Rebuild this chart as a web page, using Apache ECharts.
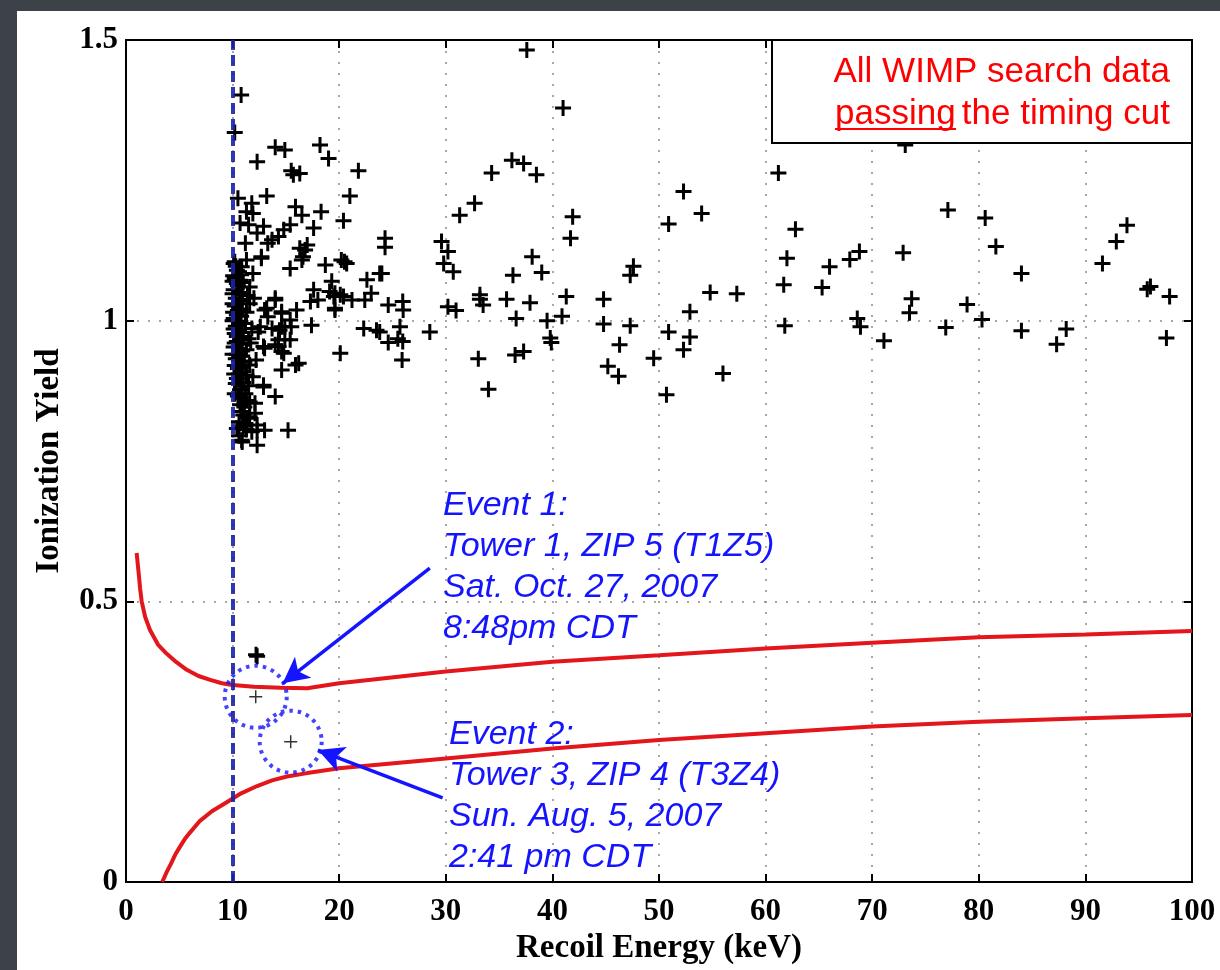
<!DOCTYPE html>
<html>
<head>
<meta charset="utf-8">
<script src="https://cdn.jsdelivr.net/npm/echarts@6/dist/echarts.min.js"></script>
<style>
  html, body { margin: 0; padding: 0; background: #3c4247; }
  #panel { position: absolute; left: 17px; top: 11px; width: 1203px; height: 959px; background: #ffffff; }
  #chart { position: absolute; left: 0; top: 0; width: 1220px; height: 970px; }
</style>
</head>
<body>
<div id="panel"></div>
<div id="chart"></div>
<script>
// Recoil energy (keV) / ionization yield pairs for events passing the timing cut
const thresholdCluster = [
  [10.1,1.102],[10.4,1.090],[10.8,1.082],[10.2,1.075],[11.0,1.068],[10.5,1.062],[10.1,1.055],[10.9,1.050],
  [11.4,1.045],[10.3,1.040],[10.7,1.035],[11.6,1.030],[10.2,1.026],[10.9,1.021],[11.3,1.015],[10.4,1.010],
  [10.1,1.004],[10.7,0.999],[11.2,0.995],[10.3,0.990],[11.8,0.986],[10.6,0.982],[10.2,0.977],[11.0,0.972],
  [11.5,0.968],[10.4,0.963],[10.8,0.958],[10.1,0.953],[11.3,0.948],[10.6,0.943],[10.9,0.937],[10.3,0.932],
  [11.1,0.926],[11.6,0.921],[10.5,0.915],[10.8,0.909],[11.3,0.903],[10.4,0.897],[11.0,0.890],[11.5,0.884],
  [10.7,0.877],[11.2,0.870],[10.9,0.862],[11.6,0.855],[11.1,0.846],[10.8,0.838],[11.4,0.826],[11.0,0.812],
  [10.6,0.795],[10.0,1.048],[10.05,1.015],[10.1,0.985],[10.0,0.940],[10.15,0.905],[10.05,1.080],[10.2,0.870],
  [10.0,1.000],[11.9,1.084],[11.6,1.060],[12.0,1.040],[11.7,0.960],[12.2,0.930],[11.9,0.900],[12.7,1.111],
  [11.3,1.108],[10.85,1.096],[10.2,1.105],[12.9,0.885],[12.1,0.853],[11.6,0.829],[12.1,0.835],[11.2,0.817],
  [12.3,0.814],[11.8,0.802],[13.0,0.805],[10.85,0.787],[12.3,0.778],[10.9,0.784],[12.3,0.805],[12.9,0.882],
  [10.3,1.097],[10.6,1.087],[10.0,1.070],[10.7,1.072],[10.4,1.066],[10.0,1.030],[10.6,1.046],[10.9,1.038],
  [10.5,1.018],[10.8,1.008],[10.6,0.994],[10.9,0.979],[10.4,0.972],[10.7,0.966],[10.2,0.960],[10.6,0.951],
  [10.9,0.946],[10.4,0.940],[10.7,0.928],[10.2,0.920],[10.9,0.917],[10.6,0.905],[10.3,0.888],[10.8,0.883],
  [10.5,0.866],[11.3,0.858],[10.7,0.850],[11.0,0.832],[10.6,0.820],[11.3,0.806],[10.4,0.808]
];

const lowEnergyScatter = [
  [10.8,1.402],[10.2,1.335],[14.0,1.309],[14.9,1.304],[18.2,1.313],[19.0,1.289],[12.3,1.283],[15.5,1.267],
  [16.3,1.262],[15.7,1.260],[21.8,1.267],[21.0,1.222],[13.2,1.222],[20.4,1.178],[18.3,1.194],[15.9,1.203],
  [16.5,1.188],[17.6,1.165],[10.5,1.218],[11.8,1.209],[11.3,1.194],[11.9,1.191],[10.7,1.174],[11.5,1.171],
  [12.9,1.168],[12.3,1.156],[15.4,1.171],[14.8,1.162],[14.3,1.150],[13.7,1.144],[13.3,1.138],[11.2,1.138],
  [17.0,1.135],[16.3,1.129],[16.6,1.114],[12.7,1.114],[15.4,1.093],[16.5,1.108],[16.8,1.126],[18.7,1.099],
  [20.2,1.108],[20.7,1.102],[20.5,1.105],[22.6,1.073],[23.8,1.084],[19.3,1.070],[19.1,1.052],[17.6,1.055],
  [17.3,1.034],[18.0,1.037],[19.6,1.049],[20.1,1.046],[21.2,1.037],[22.4,1.037],[23.0,1.049],[19.5,1.043],
  [19.6,1.019],[19.6,1.022],[20.4,1.043],[22.3,0.986],[23.5,0.983],[20.1,0.942],[17.4,0.992],[16.0,1.019],
  [15.4,1.001],[14.6,1.013],[14.0,1.037],[13.0,1.019],[13.3,1.007],[12.6,0.989],[13.7,0.986],[14.6,0.989],
  [15.5,0.989],[14.9,0.989],[14.4,0.983],[12.4,0.980],[14.3,0.966],[14.9,0.966],[15.4,0.966],[12.9,0.954],
  [14.3,0.954],[14.8,0.942],[14.0,0.957],[13.0,0.951],[14.6,0.945],[14.6,0.912],[15.9,0.921],[16.2,0.924],
  [14.0,0.865],[15.2,0.805],[14.6,1.016],[13.2,1.022],[14.0,1.040]
];

const highEnergyScatter = [
  [24.3,1.147],[24.3,1.131],[24.0,1.084],[24.6,1.028],[25.96,1.034],[26.0,1.019],[25.7,0.989],[24.6,0.961],
  [25.96,0.963],[25.5,0.968],[25.9,0.930],[23.8,0.980],[28.5,0.980],[29.6,1.141],[30.2,1.123],[29.8,1.102],
  [30.7,1.087],[30.2,1.025],[30.96,1.018],[31.3,1.188],[32.7,1.209],[34.3,1.263],[36.2,1.286],[37.3,1.280],
  [38.5,1.260],[33.2,1.046],[33.2,1.038],[33.5,1.028],[33.05,0.932],[34.0,0.878],[35.7,1.038],[36.3,1.081],
  [36.6,1.004],[36.5,0.939],[37.3,0.945],[37.9,1.032],[38.1,1.114],[39.0,1.086],[39.5,1.000],[40.9,1.008],
  [39.8,0.969],[39.9,0.961],[41.3,1.043],[41.9,1.185],[41.7,1.147],[44.8,1.038],[44.8,0.994],[47.3,0.991],
  [46.3,0.957],[45.2,0.919],[46.2,0.901],[47.6,1.097],[47.3,1.081],[49.5,0.933],[50.7,0.868],[50.9,0.980],
  [52.9,1.016],[52.9,0.971],[52.3,0.948],[50.9,1.172],[52.3,1.230],[54.0,1.191],[54.8,1.050],[57.3,1.048],
  [56.0,0.906],[61.2,1.263],[62.8,1.163],[62.0,1.111],[61.7,1.064],[61.8,0.991],[65.3,1.059],[66.0,1.096],
  [67.9,1.109],[68.8,1.123],[68.6,1.004],[68.9,0.989],[71.1,0.964],[72.9,1.121],[73.7,1.039],[73.5,1.014],
  [77.1,1.197],[76.9,0.988],[78.9,1.029],[80.3,1.002],[80.6,1.183],[81.6,1.132],[84.0,1.084],[84.0,0.982],
  [87.3,0.958],[88.2,0.985],[91.6,1.102],[92.9,1.141],[93.9,1.170],[95.8,1.056],[96.1,1.061],[97.9,1.043],
  [97.6,0.969],[37.6,1.482],[41.0,1.379],[73.1,1.313],[12.2,0.405],[12.3,0.402]
];

// The two candidate events inside the signal region
const candidateEvents = [[12.17,0.330],[15.45,0.250]];

// Nuclear-recoil acceptance band edges
const upperBandE = [1.0,1.1,1.2,1.33,1.47,1.8,2.25,3.0,3.8,4.7,5.7,6.8,7.9,9.0,10,12,14.5,17,20,30,40,50,60,70,80,90,100];
const upperBandY = [0.586,0.567,0.548,0.522,0.500,0.472,0.449,0.423,0.407,0.392,0.378,0.367,0.360,0.354,0.351,0.348,0.346,0.345,0.354,0.375,0.3925,0.404,0.416,0.426,0.436,0.441,0.447];
const lowerBandE = [3.4,3.8,4.2,4.6,5.07,5.5,6.0,6.94,8.06,9.45,10.8,12.3,13.7,15.1,17,20,30,40,50,60,70,80,90,100];
const lowerBandY = [0.0,0.017,0.032,0.048,0.063,0.076,0.088,0.109,0.126,0.142,0.158,0.171,0.181,0.188,0.194,0.2026,0.220,0.238,0.253,0.265,0.277,0.2856,0.2916,0.2975];

const thresholdEnergy = 10;
const xTicks = { min: 0, max: 100, interval: 10 };
const yTicks = { min: 0, max: 1.5, interval: 0.5 };

const eventArrows = [
  [[28.5,0.559],[14.7,0.354]],
  [[29.7,0.150],[18.0,0.235]]
];

const plusPath = 'path://M6.5,0H9.5V6.5H16V9.5H9.5V16H6.5V9.5H0V6.5H6.5Z';
const thinPlusPath = 'path://M7.1,0H8.9V7.1H16V8.9H8.9V16H7.1V8.9H0V7.1H7.1Z';

const serifBold = { fontFamily: 'Liberation Serif', fontWeight: 'bold', color: '#000', fontSize: 31 };
const blue = '#1414ff';
const red = '#e3161b';

const chart = echarts.init(document.getElementById('chart'), null, { renderer: 'canvas' });

const axisCommon = {
  axisLine: { show: true, onZero: false, lineStyle: { color: '#000', width: 2 } },
  axisTick: { show: true, inside: true, length: 8, lineStyle: { color: '#000', width: 2 } },
  splitLine: { show: false },
  minorTick: { show: false }
};

chart.setOption({
  animation: false,
  backgroundColor: 'transparent',
  grid: { left: 126, top: 40, right: 28, bottom: 88, show: false },
  xAxis: [
    Object.assign({}, axisCommon, {
      type: 'value', position: 'bottom', min: xTicks.min, max: xTicks.max, interval: xTicks.interval,
      name: 'Recoil Energy (keV)', nameLocation: 'middle', nameGap: 47,
      nameTextStyle: Object.assign({}, serifBold, { fontSize: 33 }),
      axisLabel: Object.assign({}, serifBold, { margin: 14 }),
      splitLine: { show: true, lineStyle: { color: '#8a8a8a', width: 1.5, type: [2, 9] } }
    }),
    Object.assign({}, axisCommon, {
      type: 'value', position: 'top', min: xTicks.min, max: xTicks.max, interval: xTicks.interval,
      axisLabel: { show: false }
    })
  ],
  yAxis: [
    Object.assign({}, axisCommon, {
      type: 'value', position: 'left', min: yTicks.min, max: yTicks.max, interval: yTicks.interval,
      name: 'Ionization Yield', nameLocation: 'middle', nameGap: 60,
      nameTextStyle: Object.assign({}, serifBold, { fontSize: 33 }),
      axisLabel: Object.assign({}, serifBold, { margin: 8 }),
      splitLine: { show: true, lineStyle: { color: '#8a8a8a', width: 1.5, type: [2, 9] } }
    }),
    Object.assign({}, axisCommon, {
      type: 'value', position: 'right', min: yTicks.min, max: yTicks.max, interval: yTicks.interval,
      axisLabel: { show: false }
    })
  ],
  series: [
    {
      name: 'upper band', type: 'line', showSymbol: false, smooth: false,
      lineStyle: { color: red, width: 4 },
      data: upperBandE.map((e, i) => [e, upperBandY[i]])
    },
    {
      name: 'lower band', type: 'line', showSymbol: false, smooth: false,
      lineStyle: { color: red, width: 4 },
      data: lowerBandE.map((e, i) => [e, lowerBandY[i]])
    },
    {
      name: 'WIMP search data', type: 'scatter', symbol: plusPath, symbolSize: 16,
      itemStyle: { color: '#000', opacity: 1 },
      data: thresholdCluster.concat(lowEnergyScatter, highEnergyScatter)
    },
    {
      name: 'candidates', type: 'scatter', symbol: thinPlusPath, symbolSize: 13,
      itemStyle: { color: '#000' },
      data: candidateEvents
    },
    {
      name: 'threshold', type: 'line', data: [], silent: true, z: 10,
      markLine: {
        silent: true, symbol: ['none', 'none'], label: { show: false },
        lineStyle: { color: '#1e22a6', width: 4, type: [11, 5], opacity: 0.9 },
        data: [{ xAxis: thresholdEnergy }]
      }
    },
    {
      name: 'candidate rings', type: 'scatter', symbol: 'circle', symbolSize: 62, z: 4,
      itemStyle: { color: 'rgba(0,0,0,0)', borderColor: blue, borderWidth: 4, borderType: [3.5, 5] },
      data: candidateEvents
    },
    {
      name: 'pointers', type: 'line', data: [], silent: true, z: 5,
      markLine: {
        silent: true, symbol: ['none', 'arrow'], symbolSize: [20, 26], label: { show: false },
        lineStyle: { color: blue, width: 3.5, type: 'solid' },
        data: eventArrows.map(a => [{ coord: a[0] }, { coord: a[1] }])
      }
    }
  ],
  graphic: [
    {
      type: 'group', z: 100,
      children: [
        { type: 'rect', shape: { x: 772, y: 40, width: 420, height: 103 },
          style: { fill: '#fff', stroke: '#000', lineWidth: 2 }, z: 100 },
        { type: 'text', x: 1170, y: 55, z: 101,
          style: { text: 'All WIMP search data', fill: '#ff0000', font: '35px "Liberation Sans"', align: 'right', verticalAlign: 'top' } },
        { type: 'text', x: 835, y: 97, z: 101,
          style: { text: 'passing', fill: '#ff0000', font: '35px "Liberation Sans"', align: 'left', verticalAlign: 'top' } },
        { type: 'line', z: 101, shape: { x1: 835, y1: 129, x2: 956, y2: 129 }, style: { stroke: '#ff0000', lineWidth: 2 } },
        { type: 'text', x: 1170, y: 97, z: 101,
          style: { text: 'the timing cut', fill: '#ff0000', font: '35px "Liberation Sans"', align: 'right', verticalAlign: 'top' } }
      ]
    },
    {
      type: 'text', x: 443, y: 485, z: 50,
      style: { text: 'Event 1:\nTower 1, ZIP 5 (T1Z5)\nSat. Oct. 27, 2007\n8:48pm CDT', fill: blue,
        font: 'italic 34px "Liberation Sans"', lineHeight: 41, verticalAlign: 'top' }
    },
    {
      type: 'text', x: 449, y: 714, z: 50,
      style: { text: 'Event 2:\nTower 3, ZIP 4 (T3Z4)\nSun. Aug. 5, 2007\n2:41 pm CDT', fill: blue,
        font: 'italic 34px "Liberation Sans"', lineHeight: 41, verticalAlign: 'top' }
    }
  ]
});
</script>
</body>
</html>
